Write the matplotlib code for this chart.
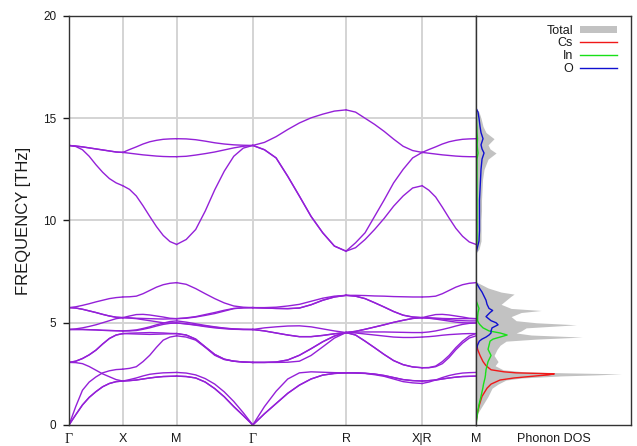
import numpy as np
import matplotlib
matplotlib.use("Agg")
import matplotlib.pyplot as plt
from matplotlib.lines import Line2D
from matplotlib.patches import Patch

# high-symmetry path (simple cubic), segment lengths in 2pi/a
labels = ["Γ", "X", "M", "Γ", "R", "X|R", "M"]
seg_len = [0.5, 0.5, 0.7071, 0.8660, 0.7071, 0.5]
q_frac = [0.0, 0.125, 0.25, 0.375, 0.5, 0.625, 0.75, 0.875, 1.0]

# phonon branches per segment, THz (15 branches x 9 q-points)
gx = [
    [0.00, 0.50, 0.98, 1.35, 1.63, 1.87, 2.03, 2.12, 2.15],
    [0.00, 0.50, 0.98, 1.35, 1.63, 1.87, 2.03, 2.12, 2.15],
    [0.00, 0.90, 1.70, 2.10, 2.35, 2.55, 2.65, 2.71, 2.73],
    [3.06, 3.05, 3.00, 2.86, 2.68, 2.50, 2.36, 2.22, 2.15],
    [3.06, 3.12, 3.25, 3.43, 3.66, 3.96, 4.23, 4.40, 4.47],
    [3.06, 3.12, 3.25, 3.43, 3.66, 3.96, 4.23, 4.40, 4.47],
    [4.67, 4.67, 4.67, 4.66, 4.65, 4.63, 4.62, 4.61, 4.60],
    [4.67, 4.67, 4.67, 4.66, 4.65, 4.63, 4.62, 4.61, 4.60],
    [4.67, 4.70, 4.75, 4.82, 4.90, 5.00, 5.10, 5.20, 5.25],
    [5.74, 5.72, 5.66, 5.58, 5.50, 5.41, 5.33, 5.27, 5.25],
    [5.74, 5.72, 5.66, 5.58, 5.50, 5.41, 5.33, 5.27, 5.25],
    [5.74, 5.78, 5.85, 5.93, 6.02, 6.10, 6.18, 6.23, 6.26],
    [13.67, 13.62, 13.46, 13.14, 12.73, 12.36, 12.05, 11.84, 11.70],
    [13.67, 13.64, 13.60, 13.55, 13.50, 13.45, 13.40, 13.35, 13.33],
    [13.67, 13.64, 13.60, 13.55, 13.50, 13.45, 13.40, 13.35, 13.33],
]
xm = [
    [2.15, 2.17, 2.20, 2.25, 2.30, 2.34, 2.37, 2.38, 2.39],
    [2.15, 2.17, 2.20, 2.25, 2.30, 2.34, 2.37, 2.38, 2.39],
    [2.15, 2.22, 2.30, 2.40, 2.48, 2.52, 2.55, 2.56, 2.57],
    [2.73, 2.77, 2.85, 3.10, 3.41, 3.80, 4.15, 4.30, 4.36],
    [4.47, 4.46, 4.45, 4.44, 4.43, 4.44, 4.45, 4.46, 4.47],
    [4.47, 4.49, 4.50, 4.51, 4.52, 4.51, 4.50, 4.48, 4.47],
    [4.60, 4.60, 4.62, 4.68, 4.75, 4.84, 4.92, 4.97, 4.99],
    [4.60, 4.62, 4.65, 4.72, 4.80, 4.90, 4.98, 5.06, 5.09],
    [5.25, 5.23, 5.20, 5.15, 5.10, 5.05, 5.00, 4.99, 4.99],
    [5.25, 5.24, 5.22, 5.21, 5.20, 5.19, 5.18, 5.19, 5.20],
    [5.25, 5.33, 5.40, 5.41, 5.38, 5.33, 5.28, 5.22, 5.20],
    [6.26, 6.27, 6.30, 6.42, 6.58, 6.74, 6.86, 6.93, 6.96],
    [11.70, 11.52, 11.20, 10.72, 10.20, 9.70, 9.27, 8.97, 8.83],
    [13.33, 13.29, 13.25, 13.21, 13.18, 13.15, 13.13, 13.12, 13.12],
    [13.33, 13.47, 13.60, 13.74, 13.85, 13.92, 13.97, 13.99, 14.00],
]
mg = [
    [2.39, 2.37, 2.30, 2.10, 1.78, 1.38, 0.90, 0.46, 0.00],
    [2.39, 2.37, 2.30, 2.10, 1.78, 1.38, 0.90, 0.46, 0.00],
    [2.57, 2.54, 2.45, 2.27, 2.00, 1.62, 1.15, 0.60, 0.00],
    [4.36, 4.30, 4.15, 3.80, 3.41, 3.20, 3.12, 3.08, 3.06],
    [4.47, 4.40, 4.20, 3.82, 3.45, 3.22, 3.12, 3.08, 3.06],
    [4.47, 4.40, 4.20, 3.82, 3.45, 3.22, 3.12, 3.08, 3.06],
    [4.99, 4.94, 4.88, 4.81, 4.75, 4.71, 4.68, 4.67, 4.67],
    [4.99, 4.95, 4.90, 4.84, 4.78, 4.73, 4.69, 4.67, 4.67],
    [5.09, 5.03, 4.95, 4.87, 4.80, 4.74, 4.70, 4.68, 4.67],
    [5.20, 5.22, 5.28, 5.36, 5.45, 5.57, 5.69, 5.73, 5.74],
    [5.20, 5.24, 5.30, 5.40, 5.50, 5.61, 5.70, 5.73, 5.74],
    [6.96, 6.88, 6.67, 6.42, 6.18, 5.97, 5.82, 5.76, 5.74],
    [8.83, 9.07, 9.56, 10.46, 11.50, 12.41, 13.14, 13.54, 13.67],
    [13.12, 13.14, 13.20, 13.27, 13.35, 13.45, 13.55, 13.63, 13.67],
    [14.00, 13.99, 13.95, 13.88, 13.80, 13.74, 13.70, 13.68, 13.67],
]
gr = [
    [0.00, 0.55, 1.05, 1.55, 1.95, 2.25, 2.44, 2.52, 2.55],
    [0.00, 0.55, 1.05, 1.55, 1.95, 2.25, 2.44, 2.52, 2.55],
    [0.00, 0.90, 1.65, 2.25, 2.55, 2.60, 2.58, 2.56, 2.55],
    [3.06, 3.06, 3.08, 3.18, 3.41, 3.73, 4.07, 4.35, 4.52],
    [3.06, 3.06, 3.08, 3.18, 3.41, 3.73, 4.07, 4.35, 4.52],
    [3.06, 3.06, 3.06, 3.07, 3.12, 3.40, 3.82, 4.25, 4.52],
    [4.67, 4.60, 4.50, 4.40, 4.32, 4.32, 4.38, 4.46, 4.52],
    [4.67, 4.60, 4.50, 4.40, 4.32, 4.32, 4.38, 4.46, 4.52],
    [4.67, 4.75, 4.80, 4.84, 4.85, 4.80, 4.70, 4.60, 4.52],
    [5.74, 5.72, 5.70, 5.69, 5.72, 5.88, 6.10, 6.26, 6.34],
    [5.74, 5.72, 5.70, 5.69, 5.72, 5.88, 6.10, 6.26, 6.34],
    [5.74, 5.74, 5.76, 5.82, 5.90, 6.05, 6.20, 6.30, 6.34],
    [13.67, 13.46, 13.06, 12.16, 11.19, 10.20, 9.40, 8.75, 8.50],
    [13.67, 13.46, 13.06, 12.16, 11.19, 10.20, 9.40, 8.75, 8.50],
    [13.67, 13.82, 14.10, 14.45, 14.77, 15.02, 15.20, 15.35, 15.41],
]
rx = [
    [2.55, 2.55, 2.53, 2.49, 2.42, 2.32, 2.22, 2.17, 2.15],
    [2.55, 2.55, 2.53, 2.49, 2.42, 2.32, 2.22, 2.17, 2.15],
    [2.55, 2.54, 2.52, 2.46, 2.38, 2.25, 2.12, 2.06, 2.03],
    [4.52, 4.40, 4.10, 3.78, 3.45, 3.15, 2.95, 2.84, 2.80],
    [4.52, 4.40, 4.10, 3.78, 3.45, 3.15, 2.95, 2.84, 2.80],
    [4.52, 4.50, 4.45, 4.40, 4.35, 4.30, 4.28, 4.28, 4.30],
    [4.52, 4.54, 4.55, 4.55, 4.55, 4.54, 4.53, 4.52, 4.52],
    [4.52, 4.58, 4.68, 4.79, 4.90, 5.02, 5.12, 5.21, 5.25],
    [4.52, 4.58, 4.68, 4.79, 4.90, 5.02, 5.12, 5.21, 5.25],
    [6.34, 6.30, 6.18, 5.98, 5.77, 5.55, 5.37, 5.28, 5.25],
    [6.34, 6.30, 6.18, 5.98, 5.77, 5.55, 5.37, 5.28, 5.25],
    [6.34, 6.34, 6.33, 6.31, 6.30, 6.28, 6.27, 6.26, 6.26],
    [8.50, 8.67, 9.07, 9.56, 10.10, 10.70, 11.20, 11.59, 11.70],
    [8.50, 8.91, 9.40, 10.20, 11.00, 11.84, 12.50, 13.06, 13.33],
    [15.41, 15.30, 15.00, 14.70, 14.36, 13.98, 13.63, 13.42, 13.33],
]
rm = [
    [2.15, 2.17, 2.20, 2.25, 2.30, 2.34, 2.37, 2.38, 2.39],
    [2.15, 2.17, 2.20, 2.25, 2.30, 2.34, 2.37, 2.38, 2.39],
    [2.03, 2.10, 2.20, 2.32, 2.42, 2.49, 2.54, 2.56, 2.57],
    [2.80, 2.80, 2.85, 3.00, 3.30, 3.68, 4.00, 4.25, 4.36],
    [2.80, 2.81, 2.88, 3.10, 3.40, 3.78, 4.10, 4.35, 4.47],
    [4.30, 4.32, 4.35, 4.39, 4.42, 4.44, 4.46, 4.47, 4.47],
    [4.52, 4.55, 4.60, 4.67, 4.75, 4.84, 4.92, 4.97, 4.99],
    [5.25, 5.22, 5.18, 5.13, 5.08, 5.03, 5.00, 4.99, 4.99],
    [5.25, 5.23, 5.20, 5.18, 5.15, 5.12, 5.10, 5.09, 5.09],
    [5.25, 5.24, 5.23, 5.21, 5.20, 5.20, 5.20, 5.20, 5.20],
    [5.25, 5.33, 5.40, 5.41, 5.38, 5.33, 5.28, 5.22, 5.20],
    [6.26, 6.27, 6.30, 6.42, 6.58, 6.74, 6.86, 6.93, 6.96],
    [11.70, 11.48, 11.15, 10.65, 10.12, 9.62, 9.23, 8.95, 8.83],
    [13.33, 13.29, 13.25, 13.21, 13.18, 13.15, 13.13, 13.12, 13.12],
    [13.33, 13.47, 13.60, 13.74, 13.85, 13.92, 13.97, 13.99, 14.00],
]
segments = [gx, xm, mg, gr, rx, rm]

# projected phonon DOS (arb. units)
dos_freq = [0.0, 0.3, 0.6, 1.0, 1.4, 1.8, 2.0, 2.2, 2.3, 2.4, 2.45, 2.5, 2.55,
            2.6, 2.7, 2.9, 3.1, 3.4, 3.7, 3.9, 4.1, 4.2, 4.3, 4.4, 4.5, 4.6,
            4.75, 4.9, 5.0, 5.1, 5.3, 5.5, 5.6, 5.7, 5.9, 6.1, 6.3, 6.4, 6.5,
            6.7, 6.9, 7.0, 8.4, 8.6, 9.0, 9.5, 10.0, 10.5, 11.0, 11.5, 12.0,
            12.5, 13.0, 13.3, 13.5, 13.7, 14.0, 14.3, 14.6, 15.0, 15.3, 15.5]
dos_total = [0, 0.5, 2, 7, 12, 16, 22, 30, 46, 85, 120, 145, 90,
             48, 27, 19, 22, 18, 21, 24, 30, 60, 106, 55, 40, 45,
             50, 100, 60, 40, 35, 45, 65, 35, 25, 30, 35, 38, 25,
             12, 4, 0, 0, 3, 5, 5, 5, 5.5, 5.5, 6, 6.5,
             8, 12, 20, 14, 12, 18, 10, 7, 5, 3, 0]
dos_cs = [0, 0.5, 1.5, 3.5, 6, 11, 15, 24, 38, 60, 72, 78, 40,
          28, 15, 10, 7, 4, 1.6, 1, 0.5, 0.4, 0.3, 0.3, 0.3, 0.3,
          0.3, 0.3, 0.3, 0.3, 0.3, 0.3, 0.3, 0.3, 0.3, 0.3, 0.3, 0.3, 0.3,
          0.3, 0.2, 0, 0, 0, 0, 0, 0, 0, 0, 0, 0,
          0, 0, 0, 0, 0, 0, 0, 0, 0, 0, 0]
dos_in = [0, 0.8, 1.6, 3, 5, 6.8, 7.5, 8.5, 9, 9.3, 9.5, 9.5, 9.6,
          9.8, 10, 11, 12, 15, 12, 13, 14, 17, 24, 31, 24, 13,
          7, 4, 2.5, 1.6, 1.6, 2, 2.5, 3, 1.5, 0, 0, 0, 0,
          0, 0, 0, 0, 0.3, 1, 1, 1, 1, 1, 1, 1,
          1, 1, 2, 1.5, 1.2, 1.5, 1, 0.8, 0.5, 0.3, 0]
dos_o = [0.3, 0.3, 0.3, 0.3, 0.3, 0.3, 0.3, 0.3, 0.3, 0.3, 0.3, 0.3, 0.3,
         0.3, 0.3, 0.3, 0.3, 0.3, 0.6, 1.5, 3.3, 6, 10, 13, 15, 15,
         16, 22, 20, 15, 10, 14, 16.6, 13, 11, 10, 8, 7, 6,
         3.3, 1, 0, 0, 1, 3, 3.5, 3.5, 3.5, 3.5, 4, 4.5,
         5, 6, 8, 6, 5, 7, 5, 4, 3, 2, 0]

band_color = "#9420d8"
grid_color = "#d4d4d4"
text_color = "#1a1a1a"

fig = plt.figure(figsize=(6.37, 4.46), dpi=100)
ax = fig.add_axes([0.10832, 0.04709, 0.63893, 0.91704])
ax2 = fig.add_axes([0.74725, 0.04709, 0.24411, 0.91704], sharey=ax)

# band structure
starts = np.concatenate([[0.0], np.cumsum(seg_len)])
for i, seg in enumerate(segments):
    x = starts[i] + np.asarray(q_frac) * seg_len[i]
    for branch in seg:
        ax.plot(x, branch, color=band_color, lw=1.0, solid_joinstyle="round", zorder=3)

for xv in starts[1:-1]:
    ax.axvline(xv, color=grid_color, lw=1.4, zorder=1)
for yv in [5, 10, 15]:
    ax.axhline(yv, color=grid_color, lw=1.4, zorder=1)

ax.set_xlim(starts[0], starts[-1])
ax.set_ylim(0, 20)
ax.set_xticks(starts)
ax.set_xticklabels(labels)
ax.set_yticks([0, 5, 10, 15, 20])
ax.tick_params(axis="x", length=0, pad=6, labelsize=9, colors=text_color)
ax.tick_params(axis="y", direction="out", length=4, width=1, pad=5,
               labelsize=8.5, colors=text_color)
for t in ax.get_xticklabels():
    if t.get_text() == "Γ":
        t.set_fontfamily("Liberation Serif")
        t.set_fontsize(10)
    else:
        t.set_fontfamily("Liberation Sans")
for t in ax.get_yticklabels():
    t.set_fontfamily("Liberation Sans")
ax.set_ylabel("FREQUENCY [THz]", fontsize=12, fontfamily="Liberation Sans",
              color=text_color)
ax.yaxis.set_label_coords(-0.094, 0.5)

# DOS panel
f = np.asarray(dos_freq)
ax2.fill_betweenx(f, 0, np.asarray(dos_total) / 100, color="#c2c2c2", lw=0, zorder=1)
ax2.plot(np.asarray(dos_cs) / 100, f, color="#f01818", lw=1.0, zorder=3)
ax2.plot(np.asarray(dos_in) / 100, f, color="#18e018", lw=1.0, zorder=3)
ax2.plot(np.asarray(dos_o) / 100, f, color="#1010d0", lw=1.0, zorder=4)
ax2.set_xlim(0, 1.55)
ax2.set_xticks([0.775])
ax2.set_xticklabels(["Phonon DOS"], fontfamily="Liberation Sans")
ax2.tick_params(axis="x", length=0, pad=6, labelsize=9, colors=text_color)
ax2.tick_params(axis="y", left=False, labelleft=False)

for a in (ax, ax2):
    for sp in a.spines.values():
        sp.set_color("#333333")
        sp.set_linewidth(1.0)
        sp.set_zorder(5)

handles = [
    Patch(facecolor="#c2c2c2", edgecolor="none"),
    Line2D([], [], color="#f01818", lw=1.0),
    Line2D([], [], color="#18e018", lw=1.0),
    Line2D([], [], color="#1010d0", lw=1.0),
]
leg = ax2.legend(handles, ["Total", "Cs", "In", "O"], loc="upper right",
                 bbox_to_anchor=(0.9686, 0.9446), bbox_transform=fig.transFigure,
                 frameon=False, markerfirst=False, handlelength=2.96,
                 handleheight=0.5, handletextpad=0.56, labelspacing=0.05,
                 borderpad=0, borderaxespad=0,
                 prop={"family": "Liberation Sans", "size": 9})
for t in leg.get_texts():
    t.set_color(text_color)

fig.savefig("out.png", dpi=100)
